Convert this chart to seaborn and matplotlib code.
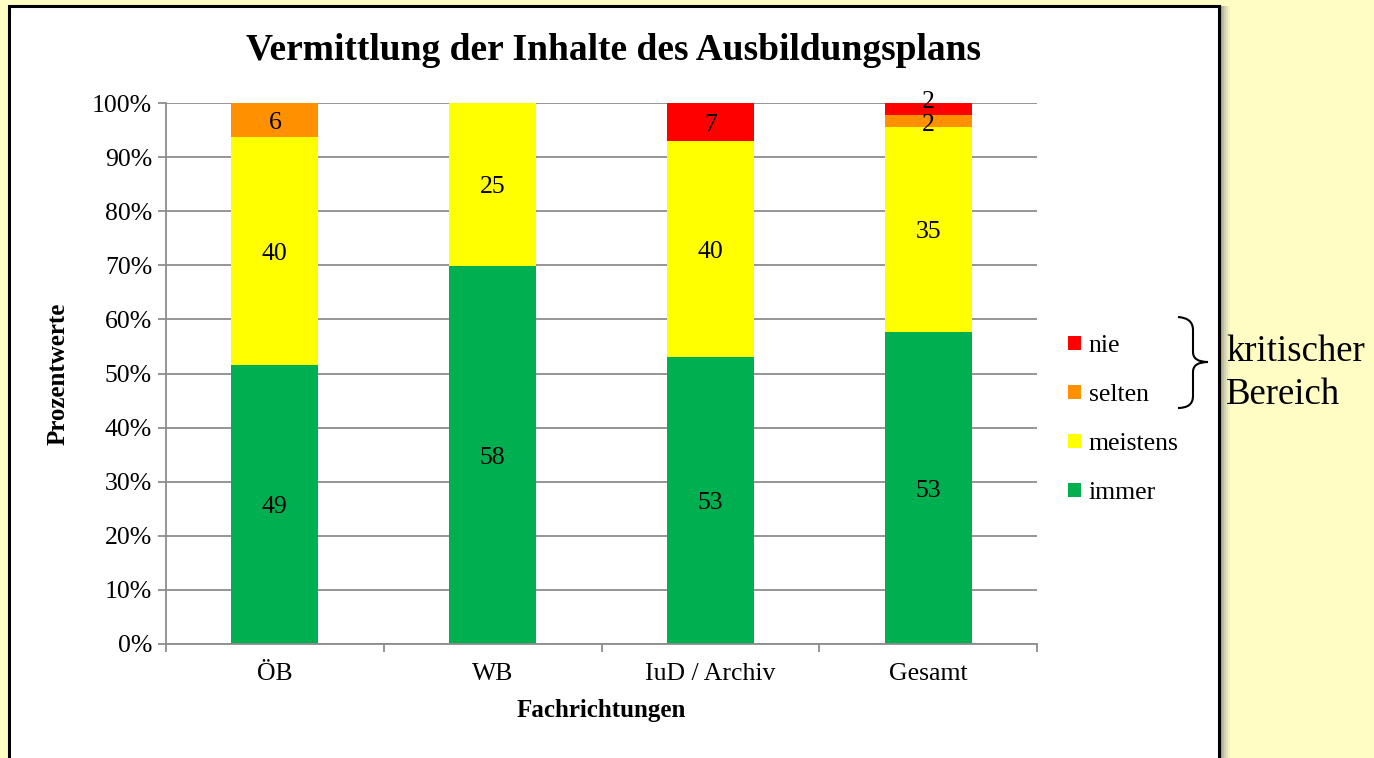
import numpy as np
import pandas as pd
import matplotlib
matplotlib.use("Agg")
import matplotlib.pyplot as plt
import seaborn as sns
from matplotlib.patches import Rectangle, Patch, PathPatch
from matplotlib.path import Path
from matplotlib.ticker import PercentFormatter, FixedLocator

# =========================
# Data (counts per answer)
# =========================
categories = ["ÖB", "WB", "IuD / Archiv", "Gesamt"]
immer = [49, 58, 53, 53]
meistens = [40, 25, 40, 35]
selten = [6, 0, 0, 2]
nie = [0, 0, 7, 2]

answers = ["immer", "meistens", "selten", "nie"]
colors = {"immer": "#00B050", "meistens": "#FFFF00", "selten": "#FF9100", "nie": "#FF0000"}

df = pd.DataFrame({"Fachrichtung": categories, "immer": immer, "meistens": meistens,
                   "selten": selten, "nie": nie})
total = df[answers].sum(axis=1)
pct = df[answers].div(total, axis=0)
cum = pct.cumsum(axis=1)
cum["Fachrichtung"] = categories

# =========================
# Figure
# =========================
sns.set_style("white")
plt.rcParams["font.family"] = ["Liberation Serif", "DejaVu Serif"]
plt.rcParams.update({"text.color": "black", "axes.labelcolor": "black",
                     "xtick.color": "black", "ytick.color": "black"})

W, H = 1374, 758
fig = plt.figure(figsize=(W / 100, H / 100), dpi=100)
fig.patch.set_facecolor("#FFFDC4")


def px(x, y):
    return x / W, 1 - y / H


# white panel with shadow
for i, c in enumerate(["#8a8a6a", "#a5a585", "#bdbd9c", "#d2d2b0", "#e4e4bd", "#f1f1c2"]):
    x0, y0 = px(9, 6)
    fig.add_artist(Rectangle((x0, -0.05), (1220 + 2 * i - 9) / W, y0 + 0.05, transform=fig.transFigure,
                             facecolor=c, edgecolor="none", zorder=-20 - i))
x0, y0 = px(9, 6)
fig.add_artist(Rectangle((x0, -0.05), (1219 - 9) / W, y0 + 0.05, transform=fig.transFigure,
                         facecolor="white", edgecolor="black", linewidth=2.2, zorder=-5))

l, b = px(166, 644)
r, t = px(1037, 103)
ax = fig.add_axes([l, b, r - l, t - b])
ax.set_facecolor("white")
ax.patch.set_alpha(0)

# stacked bars: draw cumulative totals, tallest first
for ans in answers[::-1]:
    sns.barplot(data=cum, x="Fachrichtung", y=ans, color=colors[ans], width=0.4,
                saturation=1, ax=ax, zorder=3, linewidth=0)

# count labels
for i, cat in enumerate(categories):
    for ans in answers:
        n = df.loc[i, ans]
        if n == 0:
            continue
        top = cum.loc[i, ans]
        mid = top - pct.loc[i, ans] / 2
        off = -2
        if pct.loc[i, ans] < 0.03:
            off = 5 if ans == "nie" else -3
        ax.annotate(str(n), (i, mid), xytext=(0, off), textcoords="offset points",
                    ha="center", va="center", fontsize=18.5, zorder=5)

ax.set_ylim(0, 1)
ax.set_xlim(-0.5, 3.5)
ax.yaxis.set_major_locator(FixedLocator(np.arange(0, 1.01, 0.1)))
ax.yaxis.set_major_formatter(PercentFormatter(1, decimals=0))
ax.grid(axis="y", color="#8c8c8c", linewidth=1.3, zorder=0)
ax.set_axisbelow(True)
for s in ["top", "right"]:
    ax.spines[s].set_visible(False)
for s in ["left", "bottom"]:
    ax.spines[s].set_color("#8c8c8c")
    ax.spines[s].set_linewidth(1.3)
    ax.spines[s].set_zorder(4)
ax.tick_params(axis="y", length=6, width=1.3, color="#8c8c8c", labelcolor="black",
               labelsize=18.5, pad=4, left=True)
ax.tick_params(axis="x", which="major", length=0, labelsize=18.5, pad=14, labelcolor="black")
ax.xaxis.set_minor_locator(FixedLocator([-0.5, 0.5, 1.5, 2.5, 3.5]))
ax.tick_params(axis="x", which="minor", length=6, width=1.3, color="#8c8c8c", bottom=True)

ax.set_xlabel("Fachrichtungen", fontsize=18, fontweight="bold", labelpad=10, color="black")
ax.set_ylabel("Prozentwerte", fontsize=18, fontweight="bold", labelpad=16, color="black")

fig.text(*px(614, 51), "Vermittlung der Inhalte des Ausbildungsplans", ha="center", va="center",
         fontsize=27, fontweight="bold", color="black")

# legend
handles = [Patch(facecolor=colors[a], edgecolor="none", label=a) for a in answers[::-1]]
fig.legend(handles=handles, loc="upper left", bbox_to_anchor=px(1058, 325), frameon=False,
           fontsize=18.5, handlelength=0.5, handleheight=0.5, handletextpad=0.3,
           labelspacing=1.05, borderaxespad=0, labelcolor="black")

# brace for critical range
pts = [px(1178, 317), px(1193, 318), px(1193, 330), px(1193, 352), px(1193, 362), px(1208, 362),
       px(1193, 362), px(1193, 372), px(1193, 396), px(1193, 408), px(1178, 408)]
codes = [Path.MOVETO, Path.CURVE3, Path.CURVE3, Path.LINETO, Path.CURVE3, Path.CURVE3,
         Path.CURVE3, Path.CURVE3, Path.LINETO, Path.CURVE3, Path.CURVE3]
fig.add_artist(PathPatch(Path(pts, codes), transform=fig.transFigure, facecolor="none",
                         edgecolor="black", linewidth=1.5))
fig.text(*px(1226, 352), "kritischer", ha="left", va="center", fontsize=26.5, color="black")
fig.text(*px(1226, 395), "Bereich", ha="left", va="center", fontsize=26.5, color="black")

plt.savefig("out.png", dpi=100)
plt.close()
